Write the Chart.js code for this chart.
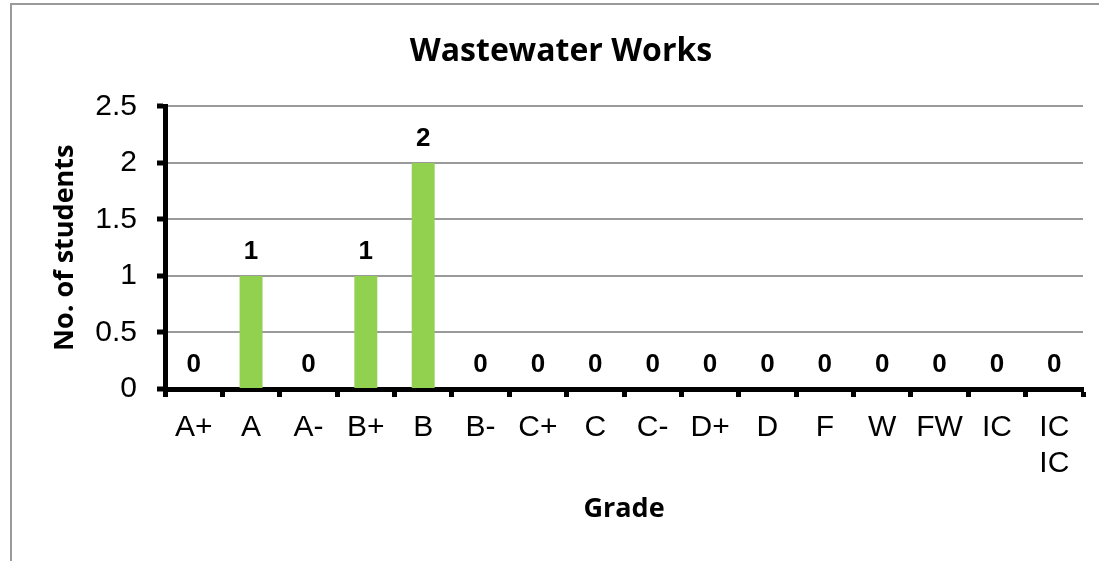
<!DOCTYPE html>
<html>
<head>
<meta charset="utf-8">
<script src="https://cdn.jsdelivr.net/npm/chart.js@4/dist/chart.umd.min.js"></script>
<style>
  html, body { margin: 0; padding: 0; background: #fff; }
  canvas { display: block; }
</style>
</head>
<body>
<canvas id="grades" width="1099" height="561"></canvas>
<script>
const grades = ['A+', 'A', 'A-', 'B+', 'B', 'B-', 'C+', 'C', 'C-', 'D+', 'D', 'F', 'W', 'FW', 'IC', ['IC', 'IC']];
const students = [0, 1, 0, 1, 2, 0, 0, 0, 0, 0, 0, 0, 0, 0, 0, 0];
const yTicks = [0, 0.5, 1, 1.5, 2, 2.5];

const tickFont = { family: '"Liberation Sans", Arial, sans-serif', size: 30 };
const titleFont = { family: '"Open Sans", Lato, sans-serif', size: 32, weight: 'bold' };
const axisTitleFont = { family: '"Open Sans", Lato, sans-serif', size: 27, weight: 'bold' };

// grey frame round the chart (top and left edge only show in the picture)
const frame = {
  id: 'frame',
  beforeDraw(chart) {
    const c = chart.ctx;
    c.save();
    c.strokeStyle = '#9a9a9a';
    c.lineWidth = 2;
    c.beginPath();
    c.moveTo(11, 561);
    c.lineTo(11, 4);
    c.lineTo(1099, 4);
    c.stroke();
    c.restore();
  }
};

// value labels over each bar
const valueLabels = {
  id: 'valueLabels',
  afterDatasetsDraw(chart) {
    const c = chart.ctx;
    const meta = chart.getDatasetMeta(0);
    c.save();
    c.font = 'bold 26px "Liberation Sans", Arial, sans-serif';
    c.fillStyle = '#000';
    c.textAlign = 'center';
    c.textBaseline = 'alphabetic';
    meta.data.forEach((bar, i) => {
      c.fillText(String(students[i]), bar.x, bar.y - 17);
    });
    c.restore();
  }
};

new Chart(document.getElementById('grades'), {
  type: 'bar',
  data: {
    labels: grades,
    datasets: [{
      label: 'No. of students',
      data: students,
      backgroundColor: '#92D050',
      borderWidth: 0,
      barPercentage: 0.4,
      categoryPercentage: 1
    }]
  },
  options: {
    responsive: false,
    animation: false,
    devicePixelRatio: 1,
    layout: { padding: { left: 39, right: 16, top: 0, bottom: 0 } },
    plugins: {
      legend: { display: false },
      tooltip: { enabled: false },
      title: {
        display: true,
        text: 'Wastewater Works',
        color: '#000',
        font: titleFont,
        padding: { top: 33, bottom: 35 }
      }
    },
    scales: {
      x: {
        z: 1,
        grid: {
          drawOnChartArea: false,
          drawTicks: true,
          tickLength: 8,
          tickWidth: 5,
          tickColor: '#000'
        },
        border: { display: true, color: '#000', width: 5 },
        ticks: { color: '#000', font: tickFont, padding: 13, maxRotation: 0, autoSkip: false },
        title: {
          display: true,
          text: 'Grade',
          color: '#000',
          font: axisTitleFont,
          padding: { top: 0, bottom: 35 }
        },
        afterFit(scale) { scale.height = 172; }
      },
      y: {
        min: 0,
        max: 2.5,
        afterBuildTicks(scale) { scale.ticks = yTicks.map(v => ({ value: v })); },
        grid: {
          color: '#9a9a9a',
          lineWidth: 2,
          drawTicks: true,
          tickLength: 8,
          tickWidth: 5,
          tickColor: '#000'
        },
        border: { display: true, color: '#000', width: 5 },
        ticks: { color: '#000', font: tickFont, padding: 20, callback: v => String(v) },
        title: {
          display: true,
          text: 'No. of students',
          color: '#000',
          font: axisTitleFont,
          padding: { top: 10, bottom: 0 }
        },
        afterFit(scale) { scale.width = 126; }
      }
    }
  },
  plugins: [frame, valueLabels]
});
</script>
</body>
</html>
